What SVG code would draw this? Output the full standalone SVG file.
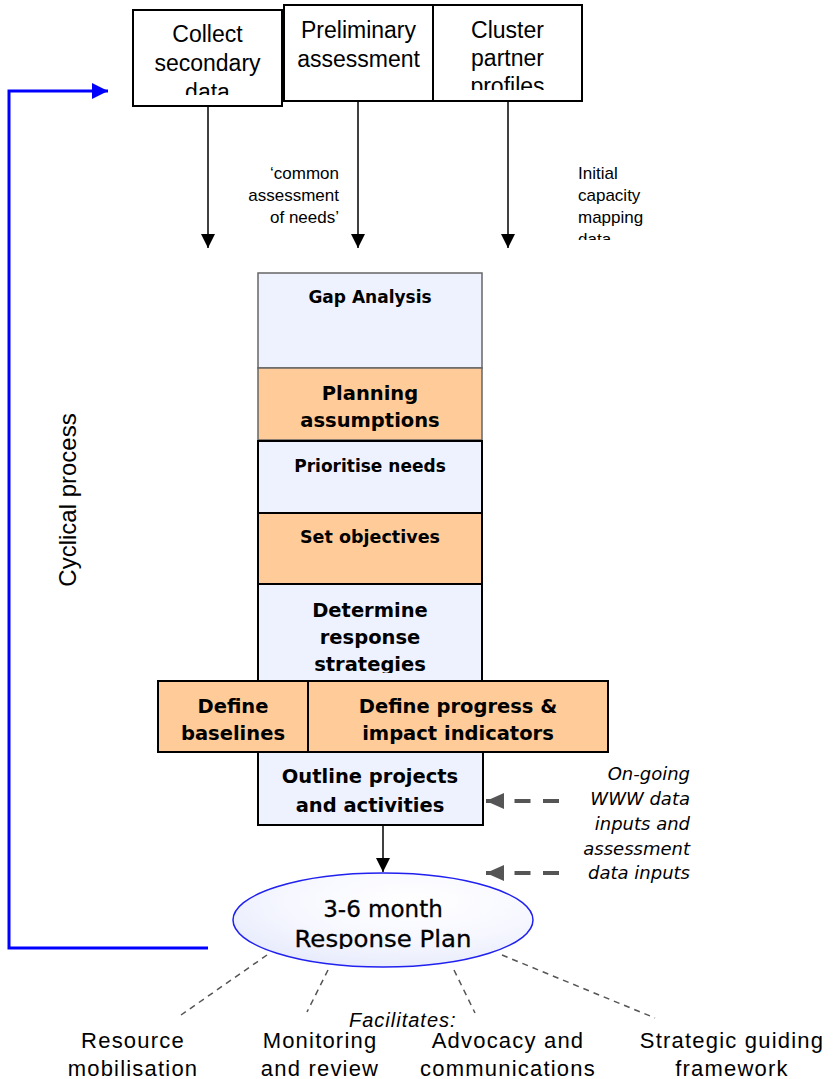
<svg xmlns="http://www.w3.org/2000/svg" width="833" height="1079" viewBox="0 0 833 1079">
<style>
.box{stroke:#000;stroke-width:2}
.blue{fill:#eef2ff}
.orange{fill:#ffcc99}
.grey{stroke:#666;stroke-width:1.5}
.top{font-family:"Liberation Sans",Arial,sans-serif;font-size:23px;fill:#000;text-anchor:middle}
.lbl{font-family:"Liberation Sans",Arial,sans-serif;font-size:17px;fill:#000}
.stk{font-family:"DejaVu Sans",Verdana,sans-serif;font-weight:bold;fill:#000;text-anchor:middle}
.s17{font-size:17px}
.s19{font-size:19.5px}
.ell{font-family:"DejaVu Sans",Verdana,sans-serif;font-size:23px;fill:#000;text-anchor:middle;stroke:#000;stroke-width:0.3}
.it{font-family:"DejaVu Sans",Verdana,sans-serif;font-style:italic;font-size:18px;fill:#000;text-anchor:end}
.bot{font-family:"Liberation Sans",Arial,sans-serif;font-size:22px;letter-spacing:1.2px;fill:#000;text-anchor:middle}
.conn{stroke:#000;stroke-width:1.5;fill:none}
.dash{stroke:#555;stroke-width:4;stroke-dasharray:16 12.5;fill:none}
.fac{stroke:#555;stroke-width:1.5;stroke-dasharray:6 5;fill:none}
.cyc{stroke:#0000ff;stroke-width:3;fill:none}
</style>
<defs>
<marker id="ahBlack" markerUnits="userSpaceOnUse" viewBox="0 0 14 14" markerWidth="14" markerHeight="14" refX="14" refY="7" orient="auto"><path d="M0,0 L14,7 L0,14 z" fill="#000"/></marker>
<marker id="ahGrey" markerUnits="userSpaceOnUse" viewBox="0 0 18 16" markerWidth="18" markerHeight="16" refX="18" refY="8" orient="auto"><path d="M0,0 L18,8 L0,16 z" fill="#555"/></marker>
<marker id="ahBlue" markerUnits="userSpaceOnUse" viewBox="0 0 16 16" markerWidth="16" markerHeight="16" refX="16" refY="8" orient="auto"><path d="M0,0 L16,8 L0,16 z" fill="#0000ff"/></marker>
<radialGradient id="ellGrad" cx="0.6" cy="0.3" r="0.8">
<stop offset="0" stop-color="#ffffff"/>
<stop offset="0.5" stop-color="#f7f8ff"/>
<stop offset="1" stop-color="#e4e8fb"/>
</radialGradient>
<clipPath id="clipCollect"><rect x="133" y="10" width="149" height="85"/></clipPath>
<clipPath id="clipCluster"><rect x="433" y="5" width="149" height="85"/></clipPath>
<clipPath id="clipInitial"><rect x="570" y="150" width="120" height="90"/></clipPath>
<clipPath id="clipStrat"><rect x="258" y="585" width="224" height="88"/></clipPath>
<clipPath id="clipPlan"><rect x="233" y="873" width="300" height="76"/></clipPath>
</defs>

<g id="connectors">
<line class="conn" x1="208" y1="106" x2="208" y2="248" marker-end="url(#ahBlack)"/>
<line class="conn" x1="358" y1="101" x2="358" y2="248" marker-end="url(#ahBlack)"/>
<line class="conn" x1="508" y1="101" x2="508" y2="248" marker-end="url(#ahBlack)"/>
<line class="conn" x1="383" y1="825" x2="383" y2="872" marker-end="url(#ahBlack)"/>
<line class="dash" x1="559" y1="801" x2="486" y2="801" marker-end="url(#ahGrey)"/>
<line class="dash" x1="559" y1="873" x2="486" y2="873" marker-end="url(#ahGrey)"/>
<polyline class="cyc" points="208,948 9,948 9,91 108,91" marker-end="url(#ahBlue)"/>
<line class="fac" x1="267" y1="955" x2="181" y2="1015"/>
<line class="fac" x1="328" y1="970" x2="307" y2="1012"/>
<line class="fac" x1="454" y1="970" x2="475" y2="1013"/>
<line class="fac" x1="502" y1="955" x2="655" y2="1018"/>
</g>

<g id="collect">
<rect class="box" x="133" y="10" width="149" height="96" fill="#fff"/>
<g clip-path="url(#clipCollect)">
<text class="top" x="207.5" y="42">Collect</text>
<text class="top" x="207.5" y="71">secondary</text>
<text class="top" x="207.5" y="100">data</text>
</g>
</g>
<g id="preliminary">
<rect class="box" x="284" y="5" width="149" height="96" fill="#fff"/>
<text class="top" x="358.5" y="38">Preliminary</text>
<text class="top" x="358.5" y="67">assessment</text>
</g>
<g id="cluster">
<rect class="box" x="433" y="5" width="149" height="96" fill="#fff"/>
<g clip-path="url(#clipCluster)">
<text class="top" x="507.5" y="38">Cluster</text>
<text class="top" x="507.5" y="66">partner</text>
<text class="top" x="507.5" y="94">profiles</text>
</g>
</g>

<g id="label-common">
<text class="lbl" text-anchor="end" x="339" y="179">‘common</text>
<text class="lbl" text-anchor="end" x="339" y="201">assessment</text>
<text class="lbl" text-anchor="end" x="339" y="223">of needs’</text>
</g>
<g id="label-initial" clip-path="url(#clipInitial)">
<text class="lbl" x="578" y="179">Initial</text>
<text class="lbl" x="578" y="201">capacity</text>
<text class="lbl" x="578" y="223">mapping</text>
<text class="lbl" x="578" y="245">data</text>
</g>

<g id="gap">
<rect class="blue grey" x="258" y="273" width="224" height="95"/>
<text class="stk s17" x="370" y="303">Gap Analysis</text>
</g>
<g id="planning">
<rect class="orange grey" x="258" y="368" width="224" height="72"/>
<text class="stk s19" x="370" y="400">Planning</text>
<text class="stk s19" x="370" y="427">assumptions</text>
</g>
<g id="prioritise">
<rect class="blue box" x="258" y="441" width="224" height="72"/>
<text class="stk s17" x="370" y="472">Prioritise needs</text>
</g>
<g id="objectives">
<rect class="orange box" x="258" y="513" width="224" height="71"/>
<text class="stk s17" x="370" y="543" textLength="140" lengthAdjust="spacingAndGlyphs">Set objectives</text>
</g>
<g id="strategies">
<rect class="blue box" x="258" y="584" width="224" height="97"/>
<g clip-path="url(#clipStrat)">
<text class="stk s19" x="370" y="617">Determine</text>
<text class="stk s19" x="370" y="644">response</text>
<text class="stk s19" x="370" y="671">strategies</text>
</g>
</g>
<g id="baselines">
<rect class="orange box" x="158" y="681" width="150" height="71"/>
<text class="stk s19" x="233" y="713">Define</text>
<text class="stk s19" x="233" y="740">baselines</text>
</g>
<g id="indicators">
<rect class="orange box" x="308" y="681" width="300" height="71"/>
<text class="stk s19" x="458" y="713">Define progress &amp;</text>
<text class="stk s19" x="458" y="740">impact indicators</text>
</g>
<g id="outline">
<rect class="blue box" x="258" y="752" width="225" height="73"/>
<text class="stk s19" x="370" y="783">Outline projects</text>
<text class="stk s19" x="370" y="812">and activities</text>
</g>

<g id="ongoing">
<text class="it" x="690" y="780">On-going</text>
<text class="it" x="690" y="805">WWW data</text>
<text class="it" x="690" y="830">inputs and</text>
<text class="it" x="690" y="855">assessment</text>
<text class="it" x="690" y="879">data inputs</text>
</g>

<g id="response-plan">
<ellipse cx="383" cy="920" rx="150" ry="47" fill="url(#ellGrad)" stroke="#2020f0" stroke-width="1.5"/>
<g clip-path="url(#clipPlan)">
<text class="ell" x="383" y="917">3-6 month</text>
<text class="ell" x="383" y="947" textLength="177" lengthAdjust="spacingAndGlyphs">Response Plan</text>
</g>
</g>

<g id="cyclical">
<text font-family="Liberation Sans, Arial, sans-serif" font-size="24" fill="#000" text-anchor="middle" transform="translate(76,500) rotate(-90)">Cyclical process</text>
</g>

<g id="facilitates">
<text font-family="Liberation Sans, Arial, sans-serif" font-size="20" font-style="italic" letter-spacing="1" fill="#000" x="349" y="1027">Facilitates:</text>
</g>
<g id="resource">
<text class="bot" x="133" y="1048">Resource</text>
<text class="bot" x="133" y="1076">mobilisation</text>
</g>
<g id="monitoring">
<text class="bot" x="320" y="1048">Monitoring</text>
<text class="bot" x="320" y="1076">and review</text>
</g>
<g id="advocacy">
<text class="bot" x="508" y="1048">Advocacy and</text>
<text class="bot" x="508" y="1076">communications</text>
</g>
<g id="strategic">
<text class="bot" x="732" y="1048">Strategic guiding</text>
<text class="bot" x="732" y="1076">framework</text>
</g>
</svg>
